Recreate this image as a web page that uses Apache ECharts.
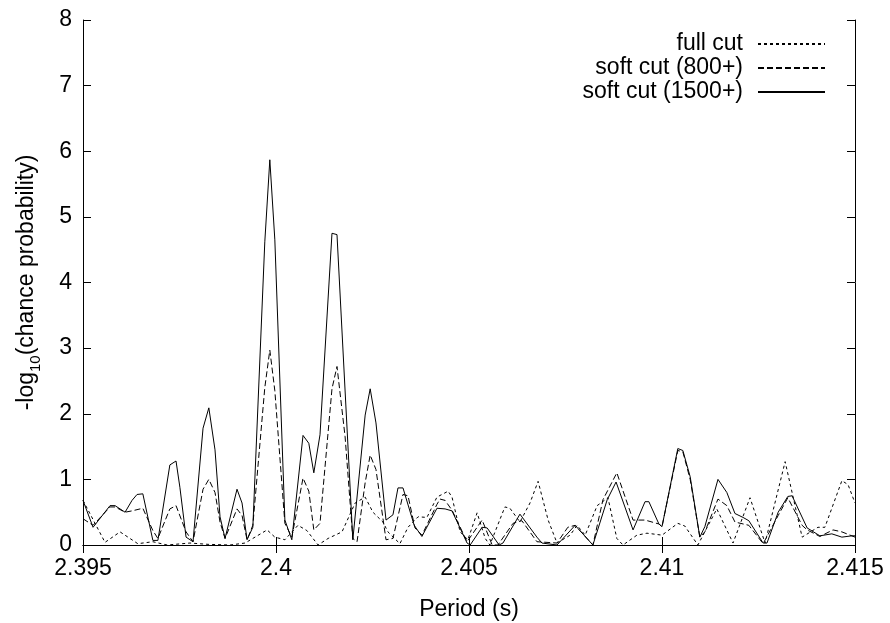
<!DOCTYPE html>
<html>
<head>
<meta charset="utf-8">
<script src="https://cdn.jsdelivr.net/npm/echarts@6/dist/echarts.min.js"></script>
<style>
html,body{margin:0;padding:0;background:#fff;}
#chart{width:890px;height:623px;}
</style>
</head>
<body>
<div id="chart"></div>
<script>
// Tick labels
var xTicks = [2.395, 2.4, 2.405, 2.41, 2.415];
var yTicks = [0, 1, 2, 3, 4, 5, 6, 7, 8];
var seriesNames = ['full cut', 'soft cut (800+)', 'soft cut (1500+)'];

// full cut (dotted)
var fullPeriod = [2.39500,2.39557,2.39596,2.39642,2.39681,2.39718,2.39777,2.39824,2.39881,2.39920,
  2.39977,2.39997,2.40023,2.40057,2.40080,2.40109,2.40135,2.40171,2.40205,2.40231,
  2.40251,2.40277,2.40290,2.40321,2.40342,2.40368,2.40391,2.40417,2.40446,2.40456,
  2.40477,2.40497,2.40521,2.40542,2.40554,2.40593,2.40606,2.40632,2.40658,2.40679,
  2.40705,2.40728,2.40762,2.40780,2.40801,2.40832,2.40860,2.40883,2.40899,2.40935,
  2.40961,2.41000,2.41041,2.41059,2.41093,2.41142,2.41184,2.41228,2.41267,2.41319,
  2.41363,2.41404,2.41422,2.41466,2.41482,2.41500];
var fullValue = [0.68,0.04,0.20,0.02,0.05,0.00,0.03,0.01,0.00,0.03,
  0.23,0.12,0.08,0.30,0.22,0.00,0.10,0.20,0.64,0.73,
  0.50,0.35,0.20,0.02,0.27,0.43,0.42,0.73,0.82,0.73,
  0.20,0.08,0.49,0.10,0.00,0.58,0.56,0.35,0.64,0.97,
  0.38,0.03,0.15,0.30,0.15,0.60,0.72,0.10,0.00,0.15,
  0.18,0.15,0.33,0.29,0.00,0.55,0.03,0.72,0.03,1.27,
  0.12,0.27,0.27,0.98,0.92,0.64];

// soft cut (800+) (dashed)
var soft800Period = [2.39500,2.39526,2.39570,2.39583,2.39609,2.39627,2.39655,2.39681,2.39694,2.39725,
  2.39741,2.39767,2.39785,2.39811,2.39826,2.39842,2.39855,2.39868,2.39899,2.39912,
  2.39925,2.39940,2.39971,2.39984,2.39997,2.40023,2.40041,2.40070,2.40085,2.40098,
  2.40114,2.40145,2.40158,2.40179,2.40199,2.40210,2.40231,2.40244,2.40259,2.40285,
  2.40303,2.40329,2.40342,2.40360,2.40378,2.40417,2.40425,2.40438,2.40456,2.40495,
  2.40534,2.40560,2.40575,2.40614,2.40637,2.40676,2.40728,2.40756,2.40775,2.40821,
  2.40847,2.40883,2.40925,2.40956,2.40992,2.41000,2.41041,2.41054,2.41073,2.41098,
  2.41111,2.41145,2.41168,2.41189,2.41225,2.41262,2.41301,2.41326,2.41363,2.41376,
  2.41409,2.41443,2.41466,2.41500];
var soft800Value = [0.40,0.30,0.58,0.58,0.50,0.52,0.56,0.22,0.10,0.55,
  0.60,0.20,0.05,0.85,1.00,0.80,0.35,0.10,0.55,0.45,
  0.08,0.30,2.40,2.97,2.35,0.33,0.12,1.02,0.82,0.23,
  0.33,2.38,2.72,1.65,0.10,0.05,0.95,1.37,1.15,0.08,
  0.10,0.77,0.75,0.26,0.15,0.62,0.70,0.68,0.53,0.05,
  0.38,0.00,0.00,0.33,0.37,0.05,0.03,0.27,0.30,0.00,
  0.69,1.10,0.38,0.38,0.32,0.28,1.44,1.42,1.00,0.12,
  0.20,0.70,0.60,0.35,0.30,0.02,0.45,0.72,0.30,0.23,
  0.13,0.23,0.20,0.12];

// soft cut (1500+) (solid)
var soft1500Period = [2.39500,2.39526,2.39570,2.39583,2.39609,2.39627,2.39640,2.39655,2.39681,2.39694,
  2.39725,2.39741,2.39751,2.39767,2.39785,2.39811,2.39826,2.39842,2.39855,2.39868,
  2.39899,2.39912,2.39925,2.39940,2.39971,2.39984,2.39997,2.40023,2.40041,2.40070,
  2.40085,2.40098,2.40114,2.40145,2.40158,2.40199,2.40231,2.40244,2.40259,2.40285,
  2.40303,2.40316,2.40329,2.40358,2.40378,2.40417,2.40438,2.40456,2.40495,2.40503,
  2.40534,2.40547,2.40578,2.40588,2.40632,2.40676,2.40689,2.40728,2.40775,2.40821,
  2.40858,2.40881,2.40925,2.40956,2.40966,2.40992,2.41000,2.41041,2.41054,2.41073,
  2.41098,2.41111,2.41145,2.41168,2.41189,2.41210,2.41225,2.41262,2.41272,2.41301,
  2.41326,2.41337,2.41376,2.41409,2.41440,2.41466,2.41492,2.41500];
var soft1500Value = [0.68,0.27,0.60,0.60,0.50,0.68,0.77,0.78,0.07,0.07,
  1.22,1.28,0.88,0.12,0.05,1.78,2.09,1.45,0.43,0.10,
  0.85,0.64,0.08,0.27,4.62,5.87,4.65,0.38,0.08,1.67,
  1.55,1.10,1.68,4.75,4.73,0.08,1.98,2.38,1.86,0.38,
  0.46,0.87,0.87,0.30,0.13,0.56,0.55,0.52,0.03,0.00,
  0.27,0.26,0.00,0.03,0.47,0.12,0.03,0.00,0.30,0.00,
  0.69,0.96,0.23,0.66,0.66,0.32,0.28,1.47,1.44,1.04,
  0.12,0.28,1.00,0.80,0.48,0.42,0.37,0.03,0.03,0.50,
  0.74,0.75,0.26,0.14,0.17,0.12,0.14,0.14];

function pairs(xs, ys) {
  var out = [];
  for (var i = 0; i < xs.length; i++) out.push([xs[i], ys[i]]);
  return out;
}

var FONT = "'Liberation Sans', Arial, sans-serif";
var FS = 23;

var chart = echarts.init(document.getElementById('chart'), null, {renderer: 'canvas'});

var tickStyle = {show: true, inside: true, length: 8, lineStyle: {color: '#000', width: 1}};
var lineStyleAxis = {show: true, lineStyle: {color: '#000', width: 1}};

chart.setOption({
  animation: false,
  backgroundColor: '#fff',
  textStyle: {fontFamily: FONT, color: '#000'},
  grid: {left: 83, right: 35, top: 20, bottom: 78, containLabel: false, outerBoundsMode: 'none'},
  legend: {
    orient: 'vertical',
    right: 64,
    top: 32,
    padding: 0,
    align: 'right',
    itemWidth: 67,
    itemHeight: 14,
    itemGap: 0,
    selectedMode: false,
    itemStyle: {color: 'transparent', borderWidth: 0, opacity: 0},
    textStyle: {fontFamily: FONT, fontSize: FS, color: '#000', lineHeight: 24, padding: [0, 10, 0, 0]},
    data: seriesNames.map(function (n) { return {name: n}; })
  },
  xAxis: [{
    type: 'value',
    position: 'bottom',
    min: xTicks[0],
    max: xTicks[xTicks.length - 1],
    interval: 0.005,
    axisLine: lineStyleAxis,
    axisTick: tickStyle,
    splitLine: {show: false},
    axisLabel: {
      fontFamily: FONT, fontSize: FS, color: '#000', margin: 12,
      formatter: function (v) { return String(+v.toFixed(3)); }
    },
    name: 'Period (s)',
    nameLocation: 'middle',
    nameGap: 53,
    nameTextStyle: {fontFamily: FONT, fontSize: FS, color: '#000'}
  }, {
    type: 'value',
    position: 'top',
    min: xTicks[0],
    max: xTicks[xTicks.length - 1],
    interval: 0.005,
    axisLine: lineStyleAxis,
    axisTick: tickStyle,
    splitLine: {show: false},
    axisLabel: {show: false}
  }],
  yAxis: [{
    type: 'value',
    position: 'left',
    min: yTicks[0],
    max: yTicks[yTicks.length - 1],
    interval: 1,
    axisLine: lineStyleAxis,
    axisTick: tickStyle,
    splitLine: {show: false},
    axisLabel: {fontFamily: FONT, fontSize: FS, color: '#000', margin: 11},
    name: '{m|-log}{sub|10}{m|(chance probability)}',
    nameLocation: 'middle',
    nameGap: 40,
    nameTextStyle: {
      fontFamily: FONT, fontSize: FS, color: '#000',
      rich: {
        m: {fontFamily: FONT, fontSize: FS, color: '#000', verticalAlign: 'top', lineHeight: 24},
        sub: {fontFamily: FONT, fontSize: 15, color: '#000', verticalAlign: 'bottom', padding: [13, 0, 0, 0]}
      }
    }
  }, {
    type: 'value',
    position: 'right',
    min: yTicks[0],
    max: yTicks[yTicks.length - 1],
    interval: 1,
    axisLine: lineStyleAxis,
    axisTick: tickStyle,
    splitLine: {show: false},
    axisLabel: {show: false}
  }],
  series: [{
    name: seriesNames[0],
    type: 'line',
    xAxisIndex: 0, yAxisIndex: 0,
    showSymbol: false, symbol: 'none',
    lineStyle: {color: '#000', width: 1, type: [3, 3]},
    itemStyle: {color: '#000'},
    data: pairs(fullPeriod, fullValue)
  }, {
    name: seriesNames[1],
    type: 'line',
    xAxisIndex: 0, yAxisIndex: 0,
    showSymbol: false, symbol: 'none',
    lineStyle: {color: '#000', width: 1, type: [6, 3]},
    itemStyle: {color: '#000'},
    data: pairs(soft800Period, soft800Value)
  }, {
    name: seriesNames[2],
    type: 'line',
    xAxisIndex: 0, yAxisIndex: 0,
    showSymbol: false, symbol: 'none',
    lineStyle: {color: '#000', width: 1, type: 'solid'},
    itemStyle: {color: '#000'},
    data: pairs(soft1500Period, soft1500Value)
  }]
});
</script>
</body>
</html>
